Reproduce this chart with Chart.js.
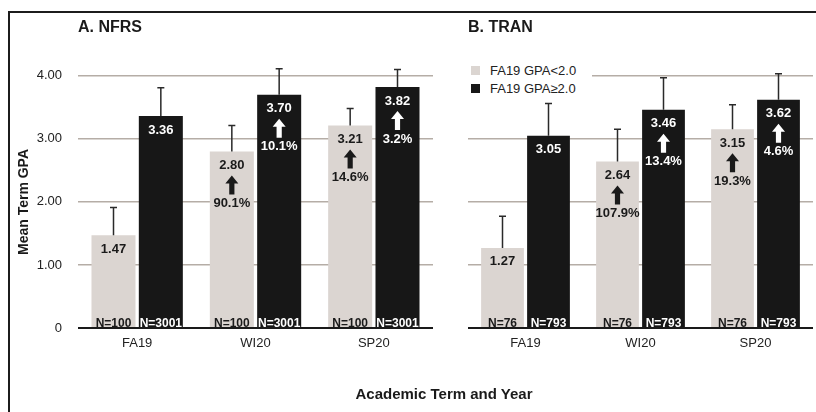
<!DOCTYPE html>
<html>
<head>
<meta charset="utf-8">
<script src="https://cdn.jsdelivr.net/npm/chart.js@4.4.1/dist/chart.umd.min.js"></script>
<style>
  body { margin: 0; background: #fff; font-family: "Liberation Sans", Arial, sans-serif; }
  #wrap { position: relative; width: 816px; height: 412px; overflow: hidden; }
  #frame { position: absolute; left: 8px; top: 11px; width: 830px; height: 430px;
           border-top: 2px solid #1c1c1c; border-left: 2px solid #1c1c1c; }
  #boxA { position: absolute; left: 0; top: 0; width: 445px; height: 412px; }
  #boxB { position: absolute; left: 445px; top: 0; width: 371px; height: 412px; }
  #legend { position: absolute; left: 468px; top: 61px; width: 124px; padding: 1px 0;
            background: #fff; font-size: 13px; color: #222; }
  #legend div { height: 18px; line-height: 18px; }
  #legend span { display: inline-block; width: 9px; height: 9px; margin: 0 10px 0 3px; vertical-align: -0px; }
  #xtitle { position: absolute; left: 0; width: 888px; top: 385px; text-align: center;
            font-weight: bold; font-size: 15px; color: #1a1a1a; }
</style>
</head>
<body>
<div id="wrap">
  <div id="frame"></div>
  <div id="boxA"><canvas id="chartA"></canvas></div>
  <div id="boxB"><canvas id="chartB"></canvas></div>
  <div id="legend"></div>
  <div id="xtitle">Academic Term and Year</div>
</div>
<script>
// terms on the x axis
const terms = ['FA19', 'WI20', 'SP20'];
const yTicks = [0, 1, 2, 3, 4];
const seriesNames = ['FA19 GPA<2.0', 'FA19 GPA\u22652.0'];

// A. NFRS
const nfrsLow = [1.47, 2.80, 3.21];
const nfrsLowSd = [0.44, 0.41, 0.27];
const nfrsLowPct = ['', '90.1%', '14.6%'];
const nfrsHigh = [3.36, 3.70, 3.82];
const nfrsHighSd = [0.45, 0.41, 0.28];
const nfrsHighPct = ['', '10.1%', '3.2%'];
const nfrsN = ['N=100', 'N=3001'];

// B. TRAN
const tranLow = [1.27, 2.64, 3.15];
const tranLowSd = [0.50, 0.51, 0.39];
const tranLowPct = ['', '107.9%', '19.3%'];
const tranHigh = [3.05, 3.46, 3.62];
const tranHighSd = [0.51, 0.51, 0.41];
const tranHighPct = ['', '13.4%', '4.6%'];
const tranN = ['N=76', 'N=793'];

const lightColor = '#dbd5d1';
const darkColor = '#171717';
const gridColor = '#b5ada6';
const fontFamily = '"Liberation Sans", Arial, sans-serif';

// legend (html so it can sit on a white box over the grid)
document.getElementById('legend').innerHTML =
  `<div><span style="background:${lightColor}"></span>${seriesNames[0].replace('<', '&lt;')}</div>` +
  `<div><span style="background:${darkColor}"></span>${seriesNames[1]}</div>`;

function drawArrow(ctx, cx, top, bottom, color) {
  const headH = 8, headW = 6.5, shaft = 2.6;
  ctx.fillStyle = color;
  ctx.beginPath();
  ctx.moveTo(cx, top);
  ctx.lineTo(cx + headW, top + headH);
  ctx.lineTo(cx + shaft, top + headH);
  ctx.lineTo(cx + shaft, bottom);
  ctx.lineTo(cx - shaft, bottom);
  ctx.lineTo(cx - shaft, top + headH);
  ctx.lineTo(cx - headW, top + headH);
  ctx.closePath();
  ctx.fill();
}

// error bars, values, arrows and N labels on the bars
const barLabels = {
  id: 'barLabels',
  afterDatasetsDraw(chart) {
    const ctx = chart.ctx;
    const yScale = chart.scales.y;
    chart.data.datasets.forEach((ds, di) => {
      const meta = chart.getDatasetMeta(di);
      meta.data.forEach((bar, i) => {
        const x = bar.x, top = bar.y, base = bar.base;
        ctx.save();
        // error whisker
        const yErr = yScale.getPixelForValue(ds.data[i] + ds.sd[i]);
        ctx.strokeStyle = '#2a2a2a';
        ctx.lineWidth = 1.5;
        ctx.beginPath();
        ctx.moveTo(x, top);
        ctx.lineTo(x, yErr);
        ctx.moveTo(x - 3.5, yErr);
        ctx.lineTo(x + 3.5, yErr);
        ctx.stroke();

        ctx.textAlign = 'center';
        ctx.textBaseline = 'middle';
        ctx.fillStyle = ds.ink;
        ctx.font = 'bold 13px ' + fontFamily;
        ctx.fillText(ds.data[i].toFixed(2), x, top + 14);
        if (ds.pct[i]) {
          drawArrow(ctx, x, top + 24, top + 43, ds.ink);
          ctx.fillStyle = ds.ink;
          ctx.fillText(ds.pct[i], x, top + 52);
        }
        ctx.font = 'bold 12px ' + fontFamily;
        ctx.textBaseline = 'alphabetic';
        ctx.fillText(ds.n, x, base - 0.5);
        ctx.restore();
      });
    });
  }
};

const yTitle = {
  id: 'yTitle',
  afterDraw(chart) {
    if (!chart.options.yTitleText) return;
    const ctx = chart.ctx;
    ctx.save();
    ctx.translate(24, 202);
    ctx.rotate(-Math.PI / 2);
    ctx.font = 'bold 14px ' + fontFamily;
    ctx.fillStyle = '#1a1a1a';
    ctx.textAlign = 'center';
    ctx.textBaseline = 'middle';
    ctx.fillText(chart.options.yTitleText, 0, 0);
    ctx.restore();
  }
};

function makeChart(id, title, low, lowSd, lowPct, high, highSd, highPct, nLabels, yWidth, showTicks, padRight) {
  return new Chart(document.getElementById(id), {
    type: 'bar',
    data: {
      labels: terms,
      datasets: [
        { label: seriesNames[0], data: low, sd: lowSd, pct: lowPct, n: nLabels[0], ink: '#1a1a1a',
          backgroundColor: lightColor, categoryPercentage: 0.8, barPercentage: 0.93 },
        { label: seriesNames[1], data: high, sd: highSd, pct: highPct, n: nLabels[1], ink: '#ffffff',
          backgroundColor: darkColor, categoryPercentage: 0.8, barPercentage: 0.93 }
      ]
    },
    options: {
      responsive: true,
      maintainAspectRatio: false,
      animation: false,
      yTitleText: showTicks ? 'Mean Term GPA' : '',
      layout: { padding: { left: 0, right: padRight, top: 0, bottom: 54 } },
      plugins: {
        legend: { display: false },
        tooltip: { enabled: false },
        title: {
          display: true, text: title, align: 'start', fullSize: false,
          color: '#1a1a1a', font: { family: fontFamily, size: 16, weight: 'bold' },
          padding: { top: 18, bottom: 7 }
        }
      },
      scales: {
        x: {
          grid: { display: false, drawTicks: false },
          border: { display: false },
          ticks: { color: '#222', font: { family: fontFamily, size: 13 }, padding: 8 },
          afterFit: s => { s.height = 30; }
        },
        y: {
          min: 0, max: 4.5,
          afterBuildTicks: s => { s.ticks = yTicks.map(v => ({ value: v })); },
          afterFit: s => { s.width = yWidth; },
          border: { display: false },
          grid: {
            drawTicks: false,
            color: c => c.tick.value === 0 ? '#1a1a1a' : gridColor,
            lineWidth: c => c.tick.value === 0 ? 2 : 1.5
          },
          ticks: {
            display: showTicks,
            color: '#222', padding: 16,
            font: { family: fontFamily, size: 13 },
            callback: v => v === 0 ? '0' : v.toFixed(2)
          }
        }
      }
    },
    plugins: [barLabels, yTitle]
  });
}

makeChart('chartA', 'A. NFRS', nfrsLow, nfrsLowSd, nfrsLowPct, nfrsHigh, nfrsHighSd, nfrsHighPct, nfrsN, 78, true, 12);
makeChart('chartB', 'B. TRAN', tranLow, tranLowSd, tranLowPct, tranHigh, tranHighSd, tranHighPct, tranN, 23, false, 3);
</script>
</body>
</html>
